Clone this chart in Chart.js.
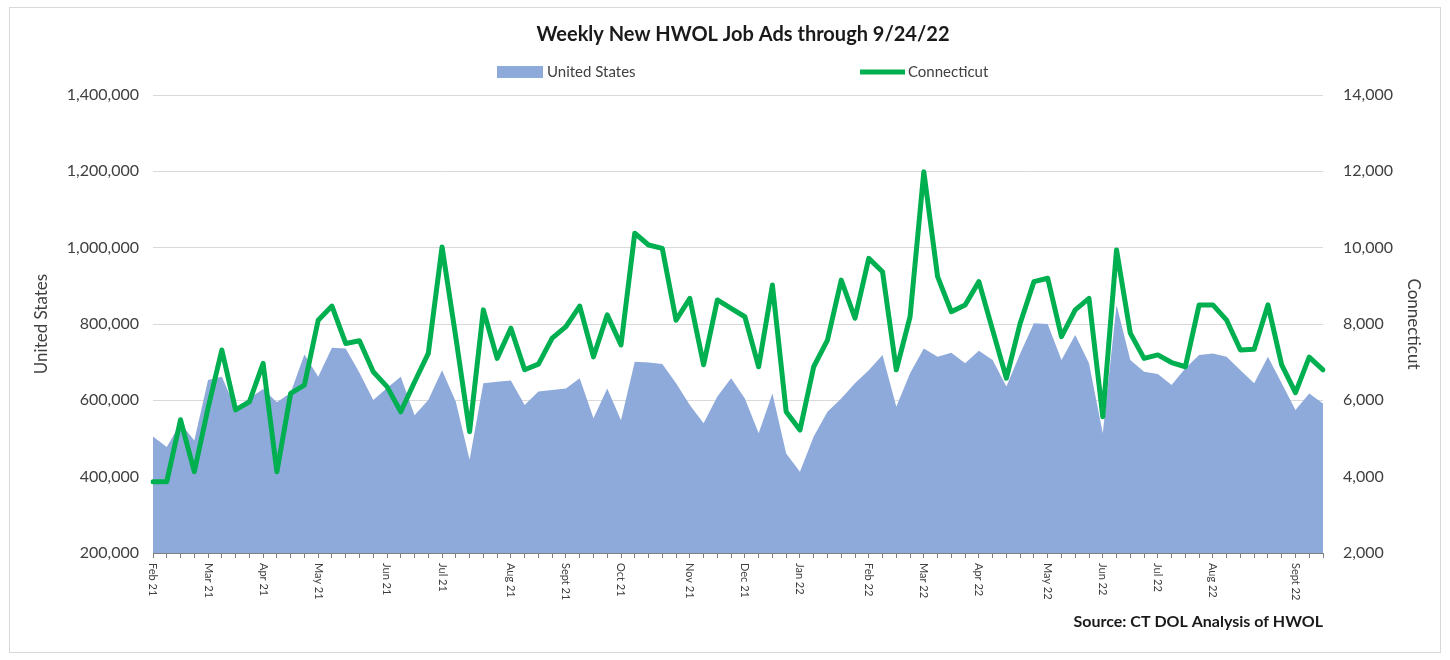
<!DOCTYPE html>
<html>
<head>
<meta charset="utf-8">
<script src="https://cdn.jsdelivr.net/npm/chart.js@4.4.1/dist/chart.umd.min.js"></script>
<style>
  html, body { margin: 0; padding: 0; background: #fff; }
</style>
</head>
<body>
<canvas id="myChart" width="1450" height="660"></canvas>
<script>
// weekly values, Feb 2021 -> 9/24/22 (86 weeks)
const usAds = [
  505000, 478000, 540000, 495000, 653000, 662000, 580000, 605000, 630000, 595000,
  620000, 720000, 662000, 738000, 736000, 672000, 601000, 632000, 662000, 561000,
  601000, 679000, 596000, 444000, 645000, 649000, 652000, 588000, 623000, 627000,
  631000, 658000, 553000, 631000, 548000, 701000, 699000, 695000, 645000, 588000,
  540000, 610000, 658000, 605000, 514000, 618000, 461000, 413000, 505000, 570000,
  605000, 645000, 679000, 719000, 583000, 671000, 736000, 714000, 725000, 697000,
  730000, 706000, 636000, 723000, 802000, 800000, 706000, 771000, 697000, 514000,
  850000, 706000, 675000, 669000, 640000, 684000, 719000, 723000, 714000, 679000,
  645000, 714000, 645000, 575000, 618000, 592000
];

const ctAds = [
  3870, 3870, 5490, 4130, 5800, 7320, 5750, 5960, 6970, 4130,
  6180, 6400, 8100, 8470, 7490, 7560, 6750, 6360, 5700, 6480,
  7230, 10020, 7650, 5180, 8370, 7100, 7890, 6800, 6950, 7630,
  7930, 8470, 7140, 8240, 7450, 10380, 10070, 9980, 8100, 8670,
  6930, 8630, 8410, 8190, 6880, 9020, 5700, 5220, 6880, 7580,
  9150, 8150, 9720, 9370, 6800, 8190, 11990, 9240, 8320, 8500,
  9110, 7840, 6580, 8020, 9110, 9200, 7670, 8370, 8670, 5570,
  9940, 7760, 7100, 7190, 6990, 6880, 8500, 8500, 8100, 7320,
  7340, 8500, 6930, 6200, 7130, 6800
];

// month labels and the week they sit on
const monthLabels = ["Feb 21", "Mar 21", "Apr 21", "May 21", "Jun 21", "Jul 21", "Aug 21", "Sept 21", "Oct 21", "Nov 21",
  "Dec 21", "Jan 22", "Feb 22", "Mar 22", "Apr 22", "May 22", "Jun 22", "Jul 22", "Aug 22", "Sept 22"];
const monthIndex = [0, 4, 8, 12, 17, 21, 26, 30, 34, 39, 43, 47, 52, 56, 60, 65, 69, 73, 77, 83];

const weekLabels = usAds.map((_, i) => {
  const k = monthIndex.indexOf(i);
  return k >= 0 ? monthLabels[k] : "";
});

const BLUE = "#8eaadb";
const GREEN = "#00b050";
const TEXT = "#404040";
const FONT = "Lato";

// frame, title, legend, source, rotated month labels
const decor = {
  id: "decor",
  beforeDraw(chart) {
    const ctx = chart.ctx;
    ctx.save();
    ctx.fillStyle = "#fff";
    ctx.fillRect(0, 0, chart.width, chart.height);
    ctx.strokeStyle = "#d9d9d9";
    ctx.lineWidth = 1;
    ctx.strokeRect(9.5, 7.5, 1431, 645);
    ctx.restore();
  },
  afterDraw(chart) {
    const ctx = chart.ctx;
    const x = chart.scales.x;
    const area = chart.chartArea;
    ctx.save();

    ctx.fillStyle = "#1a1a1a";
    ctx.font = "bold 20px " + FONT;
    ctx.textAlign = "center";
    ctx.textBaseline = "middle";
    ctx.fillText("Weekly New HWOL Job Ads through 9/24/22", 743, 35);

    // legend
    ctx.font = "15px " + FONT;
    ctx.textAlign = "left";
    ctx.fillStyle = BLUE;
    ctx.fillRect(497, 66, 46, 12);
    ctx.fillStyle = TEXT;
    ctx.fillText("United States", 547, 72);
    ctx.strokeStyle = GREEN;
    ctx.lineWidth = 5;
    ctx.beginPath();
    ctx.moveTo(860, 72);
    ctx.lineTo(905, 72);
    ctx.stroke();
    ctx.fillText("Connecticut", 908, 72);

    // source
    ctx.font = "bold 16px " + FONT;
    ctx.textAlign = "right";
    ctx.fillStyle = "#1a1a1a";
    ctx.fillText("Source: CT DOL Analysis of HWOL", area.right, 622);

    // month labels, reading top to bottom
    ctx.font = "11px " + FONT;
    ctx.fillStyle = TEXT;
    ctx.textAlign = "left";
    monthIndex.forEach((idx, k) => {
      ctx.save();
      ctx.translate(x.getPixelForValue(idx), area.bottom + 10);
      ctx.rotate(Math.PI / 2);
      ctx.fillText(monthLabels[k], 0, 0);
      ctx.restore();
    });
    ctx.restore();
  }
};

const ctx = document.getElementById("myChart").getContext("2d");

const myChart = new Chart(ctx, {
  type: "line",
  data: {
    labels: weekLabels,
    datasets: [
      {
        label: "Connecticut",
        data: ctAds,
        yAxisID: "y1",
        borderColor: GREEN,
        borderWidth: 5,
        borderJoinStyle: "round",
        borderCapStyle: "round",
        pointRadius: 0,
        tension: 0,
        fill: false,
        order: 0,
      },
      {
        label: "United States",
        data: usAds,
        yAxisID: "y",
        backgroundColor: BLUE,
        borderWidth: 0,
        pointRadius: 0,
        tension: 0,
        fill: "start",
        order: 1,
      },
    ],
  },
  options: {
    responsive: false,
    animation: false,
    layout: { padding: { left: 25, right: 20, top: 95, bottom: 57 } },
    plugins: {
      legend: { display: false },
      tooltip: { enabled: false },
    },
    scales: {
      x: {
        grid: { drawOnChartArea: false, drawTicks: true, tickLength: 5, color: "#7f7f7f" },
        border: { color: "#7f7f7f" },
        ticks: { autoSkip: false, maxRotation: 0, callback: () => "" },
        afterFit: (s) => { s.height = 50; },
      },
      y: {
        position: "left",
        min: 200000,
        max: 1400000,
        ticks: {
          stepSize: 200000,
          padding: 14,
          color: TEXT,
          font: { family: FONT, size: 16 },
          callback: (v) => v.toLocaleString("en-US"),
        },
        grid: { color: "#d9d9d9", drawTicks: false },
        border: { display: false },
        title: {
          display: true,
          text: "United States",
          color: TEXT,
          font: { family: FONT, size: 17 },
          padding: { top: 6, bottom: 0 },
        },
        afterFit: (s) => { s.width = 128; },
      },
      y1: {
        position: "right",
        min: 2000,
        max: 14000,
        ticks: {
          stepSize: 2000,
          padding: 20,
          color: TEXT,
          font: { family: FONT, size: 16 },
          callback: (v) => v.toLocaleString("en-US"),
        },
        grid: { drawOnChartArea: false, drawTicks: false },
        border: { display: false },
        title: {
          display: true,
          text: "Connecticut",
          color: TEXT,
          font: { family: FONT, size: 17 },
          padding: { top: 6, bottom: 0 },
        },
        afterFit: (s) => { s.width = 107; },
      },
    },
  },
  plugins: [decor],
});
</script>
</body>
</html>
